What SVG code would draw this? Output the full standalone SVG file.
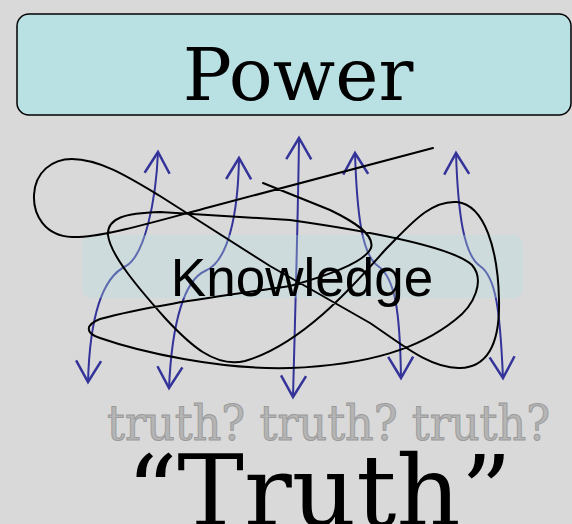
<svg xmlns="http://www.w3.org/2000/svg" width="572" height="524" viewBox="0 0 572 524">
<defs>
<style>
.serif{font-family:"DejaVu Serif","Liberation Serif",serif}
.sans{font-family:"Liberation Sans",Arial,sans-serif}
.arrow{fill:none;stroke:#333399;stroke-width:2;marker-start:url(#head);marker-end:url(#head)}
.scribble{fill:none;stroke:#000;stroke-width:2;stroke-linejoin:round;stroke-linecap:round}
</style>
<marker id="head" markerUnits="userSpaceOnUse" markerWidth="30" markerHeight="30" viewBox="-20 -12 22 24" refX="0" refY="0" orient="auto-start-reverse">
<path d="M-17,-10 L0,0 L-17,10" fill="none" stroke="#333399" stroke-width="2"/>
</marker>
</defs>
<rect width="572" height="524" fill="#d9d9d9"/>
<g id="power">
<rect x="17" y="14" width="554" height="101" rx="12" fill="#b9e0e3" stroke="#000" stroke-width="1.5"/>
<text class="serif" x="298" y="100" font-size="73" text-anchor="middle">Power</text>
</g>
<g id="connectors">
<path class="arrow" d="M158,152 C156,200 145,255 126,266 C105,276 90,310 88,382"/>
<path class="arrow" d="M239,158 C238,215 228,262 205,271 C185,280 172,320 169,388"/>
<path class="arrow" d="M299,138 C298,220 295,320 293,397"/>
<path class="arrow" d="M355,153 C357,215 362,255 378,266 C395,278 400,310 401,378"/>
<path class="arrow" d="M456,153 C458,215 464,255 480,266 C496,277 500,310 503,378"/>
</g>
<g id="knowledge">
<rect x="82" y="235" width="441" height="63" rx="9" fill="#b9e0e3" fill-opacity="0.32"/>
<path class="scribble" d="M433,148 L210,207 C150,223 100,238 72,237 C45,236 33,215 34,195 C35,172 52,159 72,159 C100,159 130,178 160,196 L270,266 L370,323 C400,343 430,369 460,368 C490,367 500,340 499,300 C498,250 485,205 457,202 C430,200 410,225 385,250 C350,290 300,345 245,361 C215,368 190,345 165,318 C140,290 110,255 108,235 C107,218 125,213 160,212 L290,220 C360,230 450,245 472,265 C485,280 475,305 455,320 C420,348 370,365 290,368 C220,370 140,352 100,338 C85,333 85,325 100,319 C150,305 230,295 290,286 C330,275 365,262 371,248 C375,235 355,222 330,210 L263,183"/>
<text class="sans" x="302" y="296" font-size="53" text-anchor="middle">Knowledge</text>
</g>
<g id="truths">
<text class="serif" x="107" y="440" font-size="48" textLength="443" lengthAdjust="spacingAndGlyphs" fill="#b5b5b5" stroke="#9a9a9a" stroke-width="1">truth? truth? truth?</text>
</g>
<g id="truth">
<text class="serif" x="319" y="526" font-size="100" text-anchor="middle">“Truth”</text>
</g>
</svg>
